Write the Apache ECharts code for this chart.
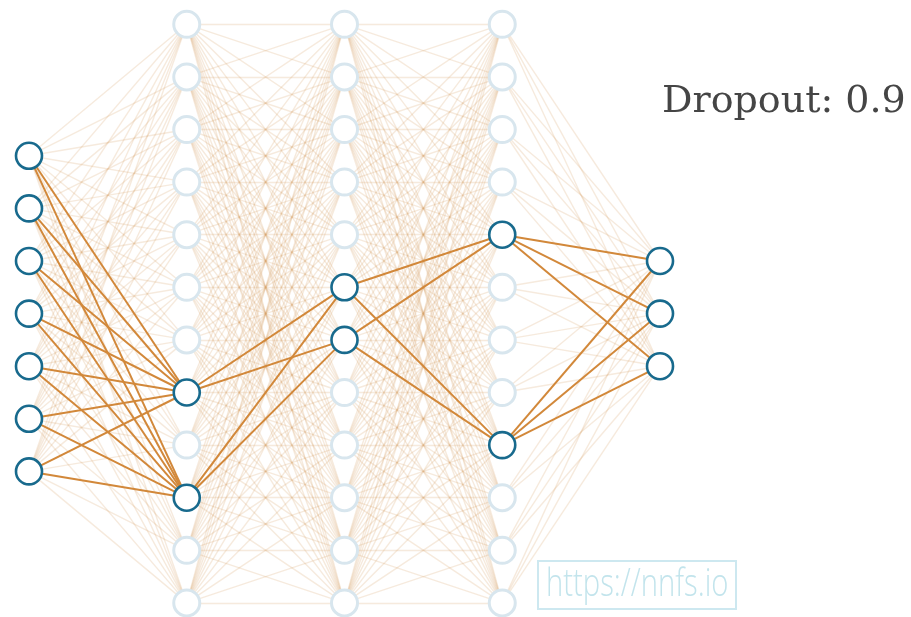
<!DOCTYPE html>
<html>
<head>
<meta charset="utf-8">
<script src="https://cdn.jsdelivr.net/npm/echarts@6/dist/echarts.min.js"></script>
<style>html,body{margin:0;padding:0;background:#fff}#c{width:911px;height:617px}</style>
</head>
<body>
<div id="c"></div>
<script>
// Network structure
var layerSizes = [7, 12, 12, 12, 3];
// Nodes kept (not dropped) in each layer, by index
var activeNodes = [
  [0, 1, 2, 3, 4, 5, 6],
  [7, 9],
  [5, 6],
  [4, 8],
  [0, 1, 2]
];
var titleText = 'Dropout: 0.9';
var watermarkText = 'https://nnfs.io';

var maxSize = Math.max.apply(null, layerSizes);
function nodePos(L, i) {
  return [L, i + (maxSize - layerSizes[L]) / 2];
}
function isActive(L, i) { return activeNodes[L].indexOf(i) >= 0; }

var faintEdges = [], activeEdges = [], faintNodes = [], activeNodesData = [];
for (var L = 0; L < layerSizes.length; L++) {
  for (var i = 0; i < layerSizes[L]; i++) {
    (isActive(L, i) ? activeNodesData : faintNodes).push(nodePos(L, i));
    if (L < layerSizes.length - 1) {
      for (var j = 0; j < layerSizes[L + 1]; j++) {
        var e = { coords: [nodePos(L, i), nodePos(L + 1, j)] };
        if (isActive(L, i) && isActive(L + 1, j)) activeEdges.push(e);
        else faintEdges.push(e);
      }
    }
  }
}

var chart = echarts.init(document.getElementById('c'), null, { renderer: 'canvas' });
chart.setOption({
  animation: false,
  backgroundColor: '#ffffff',
  grid: { left: 0, right: 0, top: 0, bottom: 0 },
  xAxis: { type: 'value', min: -0.1838, max: 5.591, show: false },
  yAxis: { type: 'value', inverse: true, min: -0.462, max: 11.268, show: false },
  graphic: [
    { type: 'text', left: 662, top: 83,
      style: { text: titleText, font: '38px "DejaVu Serif"', fill: '#454545' } },
    { type: 'rect', left: 537, top: 560, z: 100,
      shape: { width: 198, height: 48 },
      style: { fill: 'rgba(255,255,255,0.6)', stroke: '#cde8f0', lineWidth: 2 } },
    { type: 'text', x: 546, y: 565, scaleX: 0.75, z: 101,
      style: { text: watermarkText, font: '300 39px "Open Sans"', fill: '#c2e4ec' } }
  ],
  series: [
    { type: 'lines', coordinateSystem: 'cartesian2d', polyline: false, silent: true, z: 1,
      lineStyle: { color: 'rgb(214,158,100)', width: 1.4, opacity: 0.22 }, data: faintEdges },
    { type: 'lines', coordinateSystem: 'cartesian2d', polyline: false, silent: true, z: 2,
      lineStyle: { color: '#d2883a', width: 2, opacity: 1 }, data: activeEdges },
    { type: 'scatter', symbol: 'circle', symbolSize: 26, z: 3,
      itemStyle: { color: '#ffffff', borderColor: '#d8e6ee', borderWidth: 3, opacity: 1 },
      data: faintNodes },
    { type: 'scatter', symbol: 'circle', symbolSize: 26, z: 4,
      itemStyle: { color: '#ffffff', borderColor: '#186a8d', borderWidth: 2.6, opacity: 1 },
      data: activeNodesData }
  ]
});
</script>
</body>
</html>
